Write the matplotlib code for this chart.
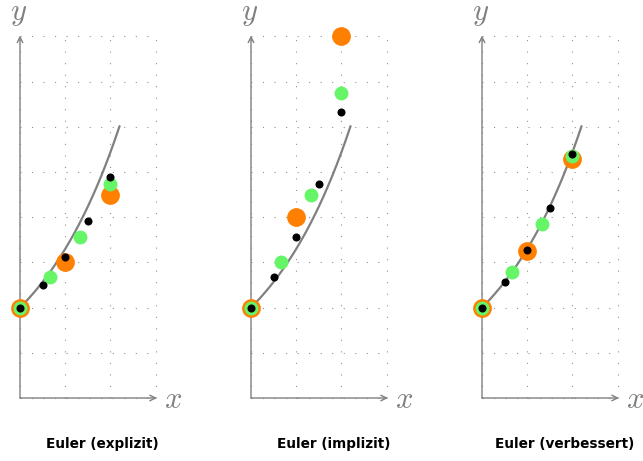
import matplotlib
matplotlib.use("Agg")
import matplotlib.pyplot as plt

plt.rcParams['mathtext.fontset'] = 'cm'
plt.rcParams['lines.scale_dashes'] = False

# exact solution y = 2 e^{x/2} (sampled values)
curve_x = [0.0, 0.1, 0.2, 0.3, 0.4, 0.5, 0.6, 0.7, 0.8, 0.9, 1.0, 1.1,
           1.2, 1.3, 1.4, 1.5, 1.6, 1.7, 1.8, 1.9, 2.0, 2.1, 2.2]
curve_y = [2.000, 2.103, 2.210, 2.324, 2.443, 2.568, 2.700, 2.838, 2.984,
           3.137, 3.297, 3.467, 3.644, 3.831, 4.028, 4.234, 4.451, 4.679,
           4.919, 5.172, 5.437, 5.715, 6.008]

titles = ["Euler (explizit)", "Euler (implizit)", "Euler (verbessert)"]

# step h = 1 (orange), h = 2/3 (green), h = 1/2 (black)
x_orange = [0.0, 1.0, 2.0]
x_green = [0.0, 0.667, 1.333, 2.0]
x_black = [0.0, 0.5, 1.0, 1.5, 2.0]

y_orange = [[2.0, 3.0, 4.5],
            [2.0, 4.0, 8.0],
            [2.0, 3.25, 5.28]]
y_green = [[2.0, 2.667, 3.556, 4.741],
           [2.0, 3.0, 4.5, 6.75],
           [2.0, 2.778, 3.858, 5.358]]
y_black = [[2.0, 2.5, 3.125, 3.906, 4.883],
           [2.0, 2.667, 3.556, 4.741, 6.321],
           [2.0, 2.563, 3.283, 4.207, 5.390]]

grid_x = [0, 1, 2, 3]
grid_y = [0, 1, 2, 3, 4, 5, 6, 7, 8]

W_PX, H_PX = 643, 461
u = 45.2          # pixels per unit
ox0, oy = 20, 398  # origin of first panel in pixels
dx_panel = 231

GREY = '#808080'
ORANGE = '#FF7F00'
GREEN = '#66F566'

fig = plt.figure(figsize=(W_PX / 100, H_PX / 100), dpi=100)

for i in range(3):
    L = dx_panel * i
    W = min(dx_panel, W_PX - L)
    ax = fig.add_axes([L / W_PX, 0, W / W_PX, 1])
    ax.set_xlim(-ox0 / u, (W - ox0) / u)
    ax.set_ylim(-(H_PX - oy) / u, oy / u)
    ax.axis('off')

    # dotted grid
    for gx in grid_x:
        ax.plot([gx, gx], [0, grid_y[-1]], color='#8c8c8c', lw=0.8,
                ls=(0, (0.75, 7.55)), dash_capstyle='butt', zorder=1)
    for gy in grid_y:
        ax.plot([0, grid_x[-1]], [gy, gy], color='#8c8c8c', lw=0.8,
                ls=(0, (0.75, 7.55)), dash_capstyle='butt', zorder=1)

    # axes with arrows
    arrow = dict(arrowstyle='->', color=GREY, lw=1.0, shrinkA=0, shrinkB=0,
                 mutation_scale=10)
    ax.annotate('', xy=(3.03, 0), xytext=(0, 0), arrowprops=arrow, zorder=2)
    ax.annotate('', xy=(0, 8.02), xytext=(0, 0), arrowprops=arrow, zorder=2)
    ax.text(3.39, -0.04, r'$x$', color=GREY, fontsize=22,
            ha='center', va='center')
    ax.text(-0.04, 8.5, r'$y$', color=GREY, fontsize=22,
            ha='center', va='center')

    # exact solution
    ax.plot(curve_x, curve_y, color=GREY, lw=1.6, zorder=3)

    # numerical approximations
    ax.plot(x_orange, y_orange[i], 'o', color=ORANGE, ms=13.5, mew=0,
            zorder=4, clip_on=False)
    ax.plot(x_green, y_green[i], 'o', color=GREEN, ms=10, mew=0,
            zorder=5, clip_on=False)
    ax.plot(x_black, y_black[i], 'o', color='black', ms=5.8, mew=0,
            zorder=6, clip_on=False)

    ax.text(1.82, -1.02, titles[i], fontsize=9.8, fontweight='bold',
            ha='center', va='center', color='black')

fig.savefig('out.png', dpi=100)
